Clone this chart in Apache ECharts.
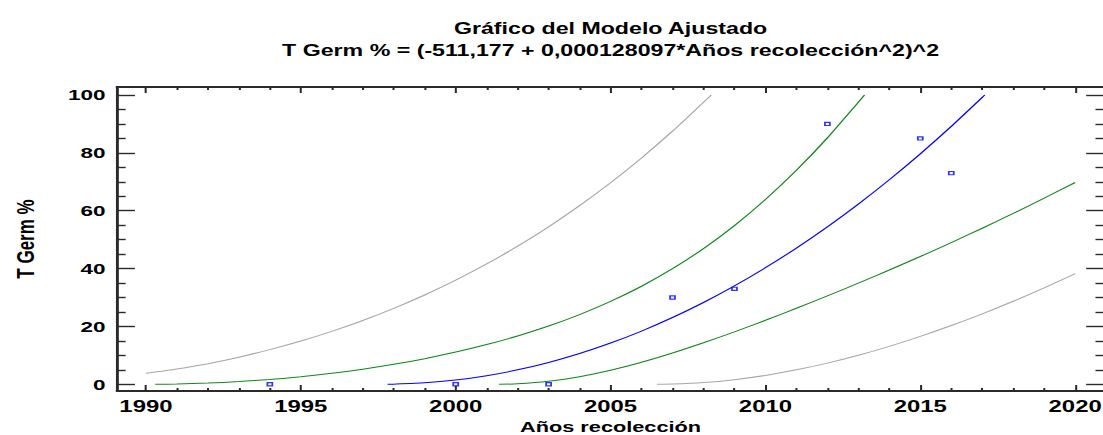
<!DOCTYPE html>
<html>
<head>
<meta charset="utf-8">
<script src="https://cdn.jsdelivr.net/npm/echarts@6/dist/echarts.min.js"></script>
<style>
  html, body { margin: 0; padding: 0; background: #fff; overflow: hidden; }
  #chart { width: 761px; height: 435px; transform: scaleX(1.4494); transform-origin: 0 0; }
</style>
</head>
<body>
<div id="chart"></div>
<script>
// ---- data ----
const titleLine1 = 'Gráfico del Modelo Ajustado';
const titleLine2 = 'T Germ % = (-511,177 + 0,000128097*Años recolección^2)^2';
const xName = 'Años recolección';
const yName = 'T Germ %';

const xMajorTicks = [1990, 1995, 2000, 2005, 2010, 2015, 2020];
const xMinorTicks = [1991,1992,1993,1994,1996,1997,1998,1999,2001,2002,2003,2004,2006,2007,2008,2009,2011,2012,2013,2014,2016,2017,2018,2019];
const yMajorTicks = [0, 20, 40, 60, 80, 100];
const yMinorTicks = [5,10,15,25,30,35,45,50,55,65,70,75,85,90,95];

const obsYears  = [1994, 2000, 2003, 2007, 2009, 2012, 2015, 2016];
const obsValues = [0, 0, 0, 30, 33, 90, 85, 73];

const fittedLine = [[1997.8,0],[1998,0.03],[1999,0.49],[2000,1.47],[2001,2.97],[2002,5.0],[2003,7.56],[2004,10.64],[2005,14.26],[2006,18.4],[2007,23.08],[2008,28.28],[2009,34.02],[2010,40.29],[2011,47.1],[2012,54.44],[2013,62.31],[2014,70.72],[2015,79.67],[2016,89.15],[2017,99.17],[2017.08,100]];
const upperConf = [[1990.3,0.02],[1991,0.1],[1992,0.41],[1993,0.93],[1994,1.66],[1995,2.61],[1996,3.79],[1997,5.22],[1998,6.9],[1999,8.86],[2000,11.13],[2001,13.73],[2002,16.72],[2003,20.15],[2004,24.1],[2005,28.64],[2006,33.89],[2007,39.95],[2008,46.92],[2009,54.87],[2010,63.88],[2011,73.97],[2012,85.18],[2013,97.51],[2013.2,100]];
const lowerConf = [[2001.4,0],[2002,0.15],[2003,1.02],[2004,2.61],[2005,4.84],[2006,7.61],[2007,10.81],[2008,14.34],[2009,18.13],[2010,22.12],[2011,26.27],[2012,30.55],[2013,34.96],[2014,39.5],[2015,44.18],[2016,48.99],[2017,53.95],[2018,59.07],[2019,64.34],[2020,69.76]];
const upperPred = [[1990,3.8],[1991,5.3],[1992,7.13],[1993,9.38],[1994,11.98],[1995,14.95],[1996,18.3],[1997,22.05],[1998,26.24],[1999,30.87],[2000,35.98],[2001,41.59],[2002,47.74],[2003,54.44],[2004,61.74],[2005,69.66],[2006,78.24],[2007,87.5],[2008,97.48],[2008.25,100]];
const lowerPred = [[2006.5,0],[2007,0.06],[2008,0.58],[2009,1.6],[2010,3.07],[2011,4.99],[2012,7.32],[2013,10.04],[2014,13.12],[2015,16.55],[2016,20.3],[2017,24.36],[2018,28.71],[2019,33.34],[2020,38.23]];

// ---- layout / style ----
const X_MIN = 1989.064, X_MAX = 2020.936;
const Y_MIN = -2.32, Y_MAX = 102.77;
const FONT = "'Liberation Sans', Arial, sans-serif";
const AXIS_COLOR = '#2a2a2a';
const plain = v => String(v);

const chart = echarts.init(document.getElementById('chart'), null, { renderer: 'svg', width: 761, height: 435 });

function xAx(position, major, showLine, showLabel) {
  return {
    type: 'value', position: position, min: X_MIN, max: X_MAX, offset: 0,
    splitLine: { show: false },
    axisLine: { show: showLine, onZero: false, lineStyle: { color: AXIS_COLOR, width: 2 } },
    axisTick: { show: true, inside: true, length: major ? 6 : 3, customValues: major ? xMajorTicks : xMinorTicks,
                lineStyle: { color: AXIS_COLOR, width: 1.4 } },
    axisLabel: showLabel ? { show: true, customValues: xMajorTicks, formatter: plain, margin: 6, color: '#000',
                fontFamily: FONT, fontWeight: 'bold', fontSize: 16.5 } : { show: false }
  };
}
function yAx(position, major, showLine, showLabel) {
  return {
    type: 'value', position: position, min: Y_MIN, max: Y_MAX, offset: 0,
    splitLine: { show: false },
    axisLine: { show: showLine, onZero: false, lineStyle: { color: AXIS_COLOR, width: 2 } },
    axisTick: { show: true, inside: true, length: major ? 12.4 : 6, customValues: major ? yMajorTicks : yMinorTicks,
                lineStyle: { color: AXIS_COLOR, width: 1.4 } },
    axisLabel: showLabel ? { show: true, customValues: yMajorTicks, formatter: plain, margin: 8, color: '#000',
                fontFamily: FONT, fontWeight: 'bold', fontSize: 15.5 } : { show: false }
  };
}

const xAxes = [xAx('bottom', true, true, true), xAx('bottom', false, false, false), xAx('top', true, true, false), xAx('top', false, false, false)];
Object.assign(xAxes[0], { name: xName, nameLocation: 'middle', nameGap: 25.5,
  nameTextStyle: { fontFamily: FONT, fontWeight: 'bold', fontSize: 15, color: '#000' } });
const yAxes = [yAx('left', true, true, true), yAx('left', false, false, false), yAx('right', true, true, false), yAx('right', false, false, false)];
Object.assign(yAxes[0], { name: yName, nameLocation: 'middle', nameGap: 55, nameRotate: 90,
  nameTextStyle: { fontFamily: FONT, fontWeight: 'bold', fontSize: 17, color: '#000' } });

function lineSeries(data, color) {
  return { type: 'line', data: data, showSymbol: false, smooth: 0.2,
           lineStyle: { color: color, width: 1 }, itemStyle: { color: color }, silent: true, z: 2 };
}

chart.setOption({
  animation: false,
  backgroundColor: '#ffffff',
  title: [
    { text: titleLine1, left: 421.25, top: 20, textAlign: 'center', padding: 0,
      textStyle: { fontFamily: FONT, fontWeight: 'bold', fontSize: 16, color: '#000' } },
    { text: titleLine2, left: 421.25, top: 42, textAlign: 'center', padding: 0,
      textStyle: { fontFamily: FONT, fontWeight: 'bold', fontSize: 16, color: '#000' } }
  ],
  grid: { left: 80.7, top: 87, width: 681.1, height: 304, containLabel: false, outerBoundsMode: 'none' },
  xAxis: xAxes,
  yAxis: yAxes,
  series: [
    lineSeries(upperPred, '#a6a6a6'),
    lineSeries(lowerPred, '#a6a6a6'),
    lineSeries(upperConf, '#11881a'),
    lineSeries(lowerConf, '#11881a'),
    lineSeries(fittedLine, '#0000ff'),
    { type: 'scatter', data: obsYears.map((y, i) => [y, obsValues[i]]),
      symbol: 'rect', symbolSize: [3.4, 3.2],
      itemStyle: { color: '#ffffff', borderColor: '#0000ff', borderWidth: 1.2 }, z: 3 }
  ]
});
</script>
</body>
</html>
